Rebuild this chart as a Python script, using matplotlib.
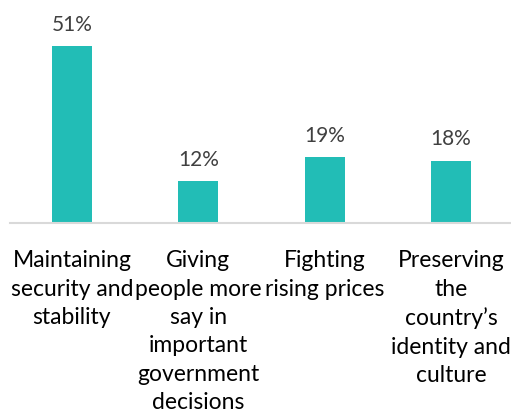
import matplotlib
matplotlib.use("Agg")
import matplotlib.pyplot as plt

# --- data ---
categories = [
    "Maintaining\nsecurity and\nstability",
    "Giving\npeople more\nsay in\nimportant\ngovernment\ndecisions",
    "Fighting\nrising prices",
    "Preserving\nthe\ncountry\u2019s\nidentity and\nculture",
]
values = [51, 12, 19, 18]
value_labels = ["51%", "12%", "19%", "18%"]

bar_color = "#22BDB6"
plt.rcParams["font.family"] = ["Lato", "DejaVu Sans"]

fig = plt.figure(figsize=(5.11, 4.14), dpi=100)
ax = fig.add_axes([10 / 511, 190 / 414, 501 / 511, 208 / 414])

x = list(range(len(values)))
bars = ax.bar(x, values, width=0.316, color=bar_color, zorder=2)

for bar, lab in zip(bars, value_labels):
    ax.annotate(lab, (bar.get_x() + bar.get_width() / 2, bar.get_height()),
                xytext=(0, 9), textcoords="offset points",
                ha="center", va="bottom", fontsize=15, color="#404040")

ax.set_xlim(-0.49, 3.475)
ax.set_ylim(0, 60)
ax.set_xticks(x)
ax.set_xticklabels(categories, fontsize=16.5, color="black", linespacing=1.43)
ax.tick_params(axis="x", length=0, pad=19)
ax.set_yticks([])

for side in ["top", "left", "right"]:
    ax.spines[side].set_visible(False)
ax.spines["bottom"].set_color("#D9D9D9")
ax.spines["bottom"].set_linewidth(1.5)

fig.savefig("out.png", dpi=100)
